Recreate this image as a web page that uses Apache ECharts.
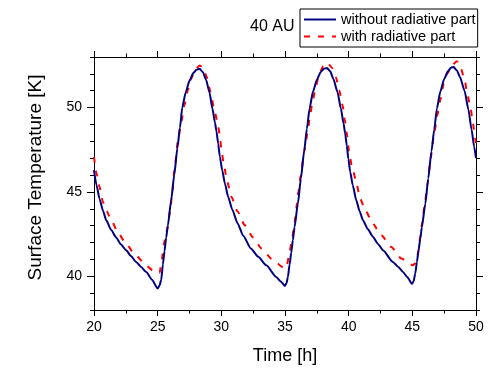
<!DOCTYPE html>
<html><head><meta charset="utf-8">
<script src="https://cdn.jsdelivr.net/npm/echarts@6/dist/echarts.min.js"></script>
<style>html,body{margin:0;padding:0;background:#fff}#c{width:500px;height:373px}</style>
</head><body><div id="c"></div>
<script>
const titleText = '40 AU';
const seriesNames = ['without radiative part', 'with radiative part'];
const xTicks = [20, 25, 30, 35, 40, 45, 50];
const yMajorTicks = [40, 45, 50];

const timeWithout = [20.0,20.2,20.43,20.7,20.96,21.35,21.74,22.1,22.53,22.9,23.31,23.7,24.1,24.55,25.0,25.15,25.28,25.41,25.54,25.67,25.8,26.06,26.3,26.55,26.75,26.93,27.2,27.5,27.8,28.05,28.3,28.55,28.8,29.07,29.3,29.5,29.62,29.75,29.88,30.07,30.28,30.54,30.86,31.27,31.72,32.32,32.9,33.53,34.31,34.65,35.0,35.12,35.23,35.36,35.49,35.62,35.75,36.01,36.25,36.5,36.72,36.93,37.2,37.5,37.8,38.05,38.3,38.55,38.8,39.12,39.39,39.6,39.72,39.85,39.98,40.12,40.32,40.6,40.86,41.12,41.5,41.9,42.3,42.69,43.47,43.9,44.26,44.6,44.98,45.1,45.23,45.36,45.49,45.62,45.75,46.02,46.25,46.5,46.72,46.93,47.2,47.5,47.8,48.05,48.25,48.5,48.75,49.1,49.4,49.65,49.85,50.0];
const tempWithout = [46.3,45.4,44.6,43.9,43.32,42.75,42.3,41.9,41.54,41.2,40.85,40.55,40.25,39.8,39.27,39.45,39.8,40.7,41.5,42.3,43.0,44.5,46.0,47.6,48.8,50.0,50.9,51.6,52.05,52.25,52.3,52.1,51.65,50.9,49.94,49.1,48.6,47.87,47.1,46.28,45.5,44.7,43.95,43.15,42.4,41.65,41.15,40.65,39.96,39.7,39.43,39.6,39.96,40.7,41.4,42.15,42.92,44.3,45.8,47.4,48.75,49.95,50.95,51.65,52.1,52.3,52.35,52.15,51.7,50.93,49.94,49.05,48.5,47.75,46.95,46.2,45.4,44.5,43.85,43.32,42.8,42.35,41.92,41.54,40.85,40.55,40.26,39.95,39.55,39.7,40.16,40.85,41.54,42.2,42.92,44.3,45.8,47.4,48.7,49.95,50.95,51.7,52.15,52.38,52.4,52.2,51.8,51.0,49.9,48.7,47.7,47.0];

const timeWith = [20.0,20.2,20.43,20.7,21.0,21.35,21.87,22.53,23.18,24.1,24.6,24.9,25.15,25.33,25.46,25.72,25.99,26.15,26.32,26.6,26.85,27.1,27.37,27.64,27.9,28.29,28.55,28.86,29.15,29.4,29.7,29.88,30.02,30.23,30.46,30.8,31.25,31.85,32.5,33.16,34.0,34.9,35.1,35.3,35.54,35.75,35.88,36.05,36.24,36.5,36.77,36.95,37.16,37.42,37.68,38.0,38.34,38.7,39.0,39.26,39.52,39.7,39.89,40.02,40.26,40.6,40.86,41.25,41.9,42.56,43.35,44.13,45.04,45.2,45.44,45.62,45.78,45.96,46.2,46.43,46.7,46.96,47.22,47.46,47.72,48.1,48.5,48.71,49.1,49.31,49.58,49.76,49.94,50.0];
const tempWith = [47.08,46.1,45.3,44.4,43.85,43.35,42.6,41.92,41.32,40.65,40.35,40.2,40.2,40.95,41.84,42.7,43.9,45.0,46.3,48.1,49.15,50.14,51.03,51.72,52.2,52.5,52.4,51.8,50.93,50.04,49.15,48.36,47.37,46.48,45.6,44.7,43.87,43.02,42.3,41.64,41.0,40.5,40.5,41.15,42.13,43.13,44.0,45.0,46.0,47.37,48.46,49.45,50.34,51.23,52.0,52.45,52.67,52.35,51.8,51.03,50.14,49.25,48.3,47.4,46.5,45.6,44.7,44.0,43.12,42.43,41.74,41.05,40.65,40.75,41.34,42.33,43.2,44.2,45.5,46.98,48.36,49.55,50.53,51.42,52.0,52.5,52.75,52.55,51.7,50.83,49.94,49.05,48.16,47.9];

const FONT = 'Liberation Sans, Arial, sans-serif';
const pairs = (xs, ys) => xs.map((x, i) => [x, ys[i]]);

const chart = echarts.init(document.getElementById('c'), null, {renderer: 'canvas'});
const black = {color: '#000', width: 1};
const majorY = {
  type: 'value', min: 38, max: 53, splitLine: {show: false},
  axisLine: {show: true, lineStyle: black},
  axisTick: {show: true, inside: false, length: 7, lineStyle: black, customValues: yMajorTicks},
  axisLabel: {show: true, customValues: yMajorTicks, fontSize: 14, color: '#000', fontFamily: FONT, margin: 12}
};
const minorY = {
  type: 'value', min: 38, max: 53, interval: 1, splitLine: {show: false},
  axisLine: {show: false},
  axisTick: {show: true, inside: false, length: 4, lineStyle: black},
  axisLabel: {show: false}
};
const xBase = {
  type: 'value', min: xTicks[0], max: xTicks[xTicks.length - 1], interval: 5, splitLine: {show: false},
  axisLine: {show: true, onZero: false, lineStyle: black},
  axisTick: {show: true, inside: false, length: 6, lineStyle: black},
  minorTick: {show: true, splitNumber: 2, length: 3.5, lineStyle: black},
  minorSplitLine: {show: false}
};
chart.setOption({
  animation: false,
  backgroundColor: '#fff',
  title: {text: titleText, left: 250, top: 19, padding: 0,
    textStyle: {fontSize: 16, fontWeight: 'normal', color: '#000', fontFamily: FONT}},
  legend: {
    data: seriesNames, left: 300, top: 9, orient: 'vertical',
    borderColor: '#000', borderWidth: 1, borderRadius: 0,
    padding: [2, 2, 2, 3], itemGap: 0, itemWidth: 32, itemHeight: 14,
    itemStyle: {opacity: 0},
    textStyle: {fontSize: 14.6, color: '#000', fontFamily: FONT, lineHeight: 17}
  },
  grid: {left: 94, right: 24, top: 57, bottom: 63, containLabel: false, outerBoundsMode: 'none'},
  xAxis: [
    Object.assign({}, xBase, {position: 'bottom',
      axisLabel: {fontSize: 14, color: '#000', fontFamily: FONT, margin: 10},
      name: 'Time [h]', nameLocation: 'middle', nameGap: 37,
      nameTextStyle: {fontSize: 18, color: '#000', fontFamily: FONT}}),
    Object.assign({}, xBase, {position: 'top', axisLabel: {show: false}})
  ],
  yAxis: [
    Object.assign({}, majorY, {position: 'left', name: 'Surface Temperature [K]', nameLocation: 'middle',
      nameGap: 49, nameRotate: 90, nameTextStyle: {fontSize: 19, color: '#000', fontFamily: FONT, padding: [0, 0, 0, 12]}}),
    Object.assign({}, minorY, {position: 'left'}),
    Object.assign({}, majorY, {position: 'right', axisLabel: {show: false}}),
    Object.assign({}, minorY, {position: 'right'})
  ],
  series: [
    {name: seriesNames[0], type: 'line', data: pairs(timeWithout, tempWithout), symbol: 'none',
      smooth: 0.2, smoothMonotone: 'x', clip: true, z: 3,
      itemStyle: {color: '#000080'}, lineStyle: {color: '#000080', width: 2}},
    {name: seriesNames[1], type: 'line', data: pairs(timeWith, tempWith), symbol: 'none',
      smooth: 0.2, smoothMonotone: 'x', clip: true, z: 2,
      itemStyle: {color: '#ff0000'}, lineStyle: {color: '#ff0000', width: 2, type: [6, 8], cap: 'butt'}}
  ]
});
</script></body></html>
